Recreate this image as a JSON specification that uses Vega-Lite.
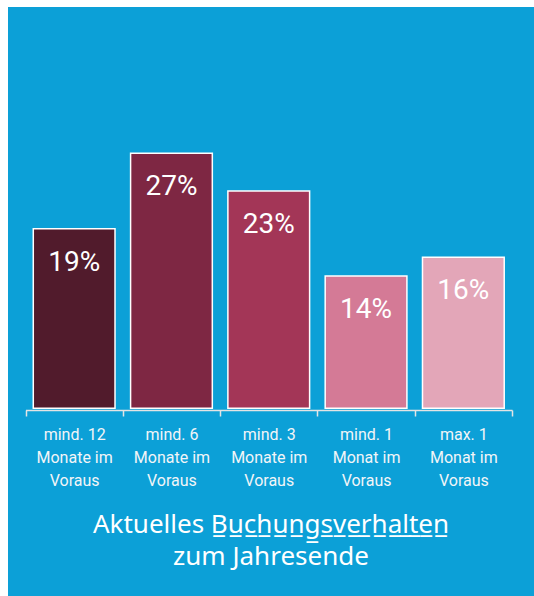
{
  "$schema": "https://vega.github.io/schema/vega-lite/v6.json",
  "width": 526,
  "height": 589,
  "autosize": {"type": "none"},
  "padding": {"left": 8, "top": 7, "right": 0, "bottom": 0},
  "background": "#ffffff",
  "config": {"view": {"fill": "#0ca0d7", "stroke": null}, "font": "Roboto"},
  "title": {
    "text": ["Aktuelles B\u0332u\u0332c\u0332h\u0332u\u0332n\u0332g\u0332s\u0332v\u0332e\u0332r\u0332h\u0332a\u0332l\u0332t\u0332e\u0332n\u0332", "zum Jahresende"],
    "orient": "bottom",
    "frame": "group",
    "anchor": "middle",
    "offset": -84,
    "font": "'Noto Sans'",
    "fontSize": 26,
    "fontWeight": "normal",
    "color": "#ffffff",
    "lineHeight": 32,
    "baseline": "top"
  },
  "data": {
    "values": [
      {"cat": "mind. 12|Monate im|Voraus", "value": 19, "label": "19%"},
      {"cat": "mind. 6|Monate im|Voraus", "value": 27, "label": "27%"},
      {"cat": "mind. 3|Monate im|Voraus", "value": 23, "label": "23%"},
      {"cat": "mind. 1|Monat im|Voraus", "value": 14, "label": "14%"},
      {"cat": "max. 1|Monat im|Voraus", "value": 16, "label": "16%"}
    ]
  },
  "encoding": {
    "x": {
      "field": "cat",
      "type": "nominal",
      "sort": null,
      "scale": {"range": [17.5, 504], "paddingInner": 0, "paddingOuter": 0},
      "axis": {
        "title": null,
        "labelExpr": "split(datum.label, '|')",
        "labelAngle": 0,
        "labelFontSize": 16,
        "labelColor": "#f2f5f7",
        "labelLineHeight": 23,
        "labelPadding": 10,
        "labelBaseline": "top",
        "labelLimit": 0,
        "tickColor": "#e4e4e4",
        "tickSize": 6,
        "tickWidth": 1.5,
        "tickBand": "extent",
        "domainColor": "#e4e4e4",
        "domainWidth": 1.5,
        "grid": false,
        "offset": -186
      }
    }
  },
  "layer": [
    {
      "mark": {"type": "bar", "stroke": "#ffffff", "strokeWidth": 1.5, "width": {"band": 0.84}},
      "encoding": {
        "y": {"field": "value", "type": "quantitative", "scale": {"domain": [-19.9, 42.5], "nice": false, "zero": false}, "axis": null},
        "y2": {"datum": 0},
        "color": {
          "field": "cat",
          "type": "nominal",
          "sort": null,
          "scale": {"range": ["#511b2c", "#7e2743", "#a33657", "#d47a96", "#e3a6b8"]},
          "legend": null
        }
      }
    },
    {
      "mark": {"type": "text", "color": "#ffffff", "fontSize": 28, "baseline": "alphabetic", "dy": 42},
      "encoding": {
        "y": {"field": "value", "type": "quantitative"},
        "text": {"field": "label"}
      }
    }
  ]
}
